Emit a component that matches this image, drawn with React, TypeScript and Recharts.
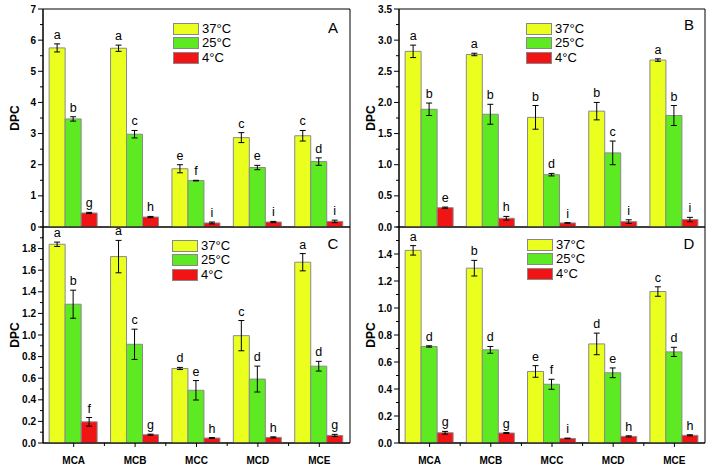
import React from 'react';
import { BarChart, Bar, XAxis, YAxis, ErrorBar, LabelList, Legend, ReferenceArea } from 'recharts';

const FONT = '"Liberation Sans", Arial, sans-serif';

const categories = ['MCA', 'MCB', 'MCC', 'MCD', 'MCE'];
const seriesNames = ['37°C', '25°C', '4°C'];
const seriesColors = ['#EAFF1E', '#5EEA22', '#F01414'];

// Panel A
const aV37 = [5.75, 5.74, 1.87, 2.87, 2.93];
const aE37 = [0.13, 0.1, 0.13, 0.16, 0.17];
const aV25 = [3.47, 2.98, 1.49, 1.91, 2.1];
const aE25 = [0.07, 0.12, 0.01, 0.07, 0.12];
const aV4 = [0.45, 0.32, 0.13, 0.16, 0.18];
const aE4 = [0.02, 0.02, 0.03, 0.02, 0.04];
const aL37 = ['a', 'a', 'e', 'c', 'c'];
const aL25 = ['b', 'c', 'f', 'e', 'd'];
const aL4 = ['g', 'h', 'i', 'i', 'i'];
const aTicks = [0, 0.5, 1, 1.5, 2, 2.5, 3, 3.5, 4, 4.5, 5, 5.5, 6, 6.5, 7];
const aMajor = [0, 1, 2, 3, 4, 5, 6, 7];

// Panel B
const bV37 = [2.82, 2.77, 1.76, 1.86, 2.68];
const bE37 = [0.1, 0.02, 0.19, 0.14, 0.02];
const bV25 = [1.89, 1.81, 0.84, 1.19, 1.79];
const bE25 = [0.1, 0.16, 0.02, 0.19, 0.16];
const bV4 = [0.31, 0.14, 0.065, 0.086, 0.12];
const bE4 = [0.01, 0.03, 0.004, 0.03, 0.035];
const bL37 = ['a', 'a', 'b', 'b', 'a'];
const bL25 = ['b', 'b', 'd', 'c', 'b'];
const bL4 = ['e', 'h', 'i', 'i', 'i'];
const bTicks = [0, 0.25, 0.5, 0.75, 1, 1.25, 1.5, 1.75, 2, 2.25, 2.5, 2.75, 3, 3.25, 3.5];
const bMajor = [0, 0.5, 1, 1.5, 2, 2.5, 3, 3.5];

// Panel C
const cV37 = [1.84, 1.726, 0.69, 0.994, 1.674];
const cE37 = [0.02, 0.15, 0.01, 0.14, 0.08];
const cV25 = [1.285, 0.914, 0.488, 0.592, 0.711];
const cE25 = [0.13, 0.14, 0.09, 0.12, 0.045];
const cV4 = [0.196, 0.077, 0.046, 0.052, 0.07];
const cE4 = [0.04, 0.005, 0.004, 0.005, 0.01];
const cL37 = ['a', 'a', 'd', 'c', 'a'];
const cL25 = ['b', 'c', 'e', 'd', 'd'];
const cL4 = ['f', 'g', 'h', 'h', 'g'];
const cTicks = [0, 0.1, 0.2, 0.3, 0.4, 0.5, 0.6, 0.7, 0.8, 0.9, 1, 1.1, 1.2, 1.3, 1.4, 1.5, 1.6, 1.7, 1.8, 1.9, 2];
const cMajor = [0, 0.2, 0.4, 0.6, 0.8, 1, 1.2, 1.4, 1.6, 1.8];

// Panel D
const dV37 = [1.427, 1.295, 0.53, 0.734, 1.122];
const dE37 = [0.035, 0.058, 0.043, 0.08, 0.035];
const dV25 = [0.715, 0.69, 0.435, 0.52, 0.675];
const dE25 = [0.005, 0.025, 0.037, 0.036, 0.034];
const dV4 = [0.076, 0.074, 0.034, 0.049, 0.057];
const dE4 = [0.01, 0.003, 0.002, 0.004, 0.004];
const dL37 = ['a', 'b', 'e', 'd', 'c'];
const dL25 = ['d', 'd', 'f', 'e', 'd'];
const dL4 = ['g', 'g', 'i', 'h', 'h'];
const dTicks = [0, 0.1, 0.2, 0.3, 0.4, 0.5, 0.6, 0.7, 0.8, 0.9, 1, 1.1, 1.2, 1.3, 1.4, 1.5, 1.6];
const dMajor = [0, 0.2, 0.4, 0.6, 0.8, 1, 1.2, 1.4];

type Series = { v: number[]; e: number[]; l: string[] };

function buildRows(s: Series[]) {
  return categories.map((name, i) => ({
    name,
    v0: s[0].v[i], e0: s[0].e[i],
    v1: s[1].v[i], e1: s[1].e[i],
    v2: s[2].v[i], e2: s[2].e[i],
  }));
}

const YTick = (props: any) => {
  const { x, y, payload, majors, decimals } = props;
  const v = payload.value;
  const isMajor = majors.some((m: number) => Math.abs(m - v) < 1e-6);
  return (
    <g>
      <line x1={x} x2={x - (isMajor ? 5 : 3)} y1={y} y2={y} stroke="#000" strokeWidth={1} />
      {isMajor && (
        <text x={x - 7} y={y} dy={3.6} textAnchor="end" fontSize={10} fontWeight="bold" fontFamily={FONT} fill="#000">
          {v.toFixed(decimals)}
        </text>
      )}
    </g>
  );
};

const XTick = (props: any) => {
  const { x, y, payload, index, band } = props;
  return (
    <g>
      <line x1={x} x2={x} y1={y} y2={y + 4} stroke="#000" />
      {index < categories.length - 1 && (
        <line x1={x + band / 2} x2={x + band / 2} y1={y} y2={y + 3} stroke="#000" />
      )}
      <text x={x} y={y + 20.5} textAnchor="middle" fontSize={10} fontWeight="bold" fontFamily={FONT} fill="#000">
        {payload.value}
      </text>
    </g>
  );
};

const makeLetter = (s: Series) => (props: any) => {
  const vb = props.viewBox || {};
  const x = props.x ?? vb.x;
  const y = props.y ?? vb.y;
  const width = props.width ?? vb.width;
  const height = props.height ?? vb.height;
  const index = props.index;
  if (index == null || x == null) return null;
  const v = s.v[index];
  const e = s.e[index];
  const pxPer = height / v;
  const top = y - e * pxPer;
  return (
    <text x={x + width / 2} y={top - 5} textAnchor="middle" fontSize={12.5} fontFamily={FONT} fill="#000">
      {s.l[index]}
    </text>
  );
};

const LegendBox = () => (
  <div style={{ fontFamily: FONT, fontSize: 13, lineHeight: '14px', color: '#000' }}>
    {seriesNames.map((n, i) => (
      <div key={n} style={{ display: 'flex', alignItems: 'center', height: 14.3 }}>
        <span
          style={{
            display: 'inline-block',
            width: 26,
            height: 12,
            boxSizing: 'border-box',
            background: seriesColors[i],
            border: '1px solid #888',
          }}
        />
        <span style={{ marginLeft: 3 }}>{n}</span>
      </div>
    ))}
  </div>
);

type PanelCfg = {
  left: number;
  top: number;
  width: number;
  height: number;
  margin: { top: number; right: number; bottom: number; left: number };
  xh: number;
  bottom: boolean;
  domain: [number, number];
  ticks: number[];
  majors: number[];
  decimals: number;
  series: Series[];
  legend: { x: number; y: number };
  letter: string;
  letterPos: { x: number; y: number };
};

const YW = 43;

const Panel = ({ cfg }: { cfg: PanelCfg }) => {
  const data = buildRows(cfg.series);
  const plotW = cfg.width - cfg.margin.left - cfg.margin.right - YW;
  const band = plotW / categories.length;
  return (
    <div style={{ position: 'absolute', left: cfg.left, top: cfg.top }}>
      <BarChart
        width={cfg.width}
        height={cfg.height}
        data={data}
        margin={cfg.margin}
        barCategoryGap="10%"
        barGap={0}
      >
        <XAxis
          dataKey="name"
          height={cfg.xh}
          axisLine={{ stroke: '#000' }}
          tickLine={false}
          tickSize={0}
          tickMargin={0}
          interval={0}
          tick={cfg.bottom ? <XTick band={band} /> : false}
        />
        <YAxis
          width={YW}
          domain={cfg.domain}
          ticks={cfg.ticks}
          interval={0}
          allowDataOverflow
          axisLine={{ stroke: '#000' }}
          tickLine={false}
          tickSize={0}
          tickMargin={0}
          tick={<YTick majors={cfg.majors} decimals={cfg.decimals} />}
          label={(p: any) => {
            const vb = p.viewBox || {};
            const cx = (vb.x ?? 0) + 15;
            const cy = (vb.y ?? 0) + (vb.height ?? 0) / 2;
            return (
              <text
                x={cx}
                y={cy}
                transform={`rotate(-90 ${cx} ${cy})`}
                textAnchor="middle"
                dominantBaseline="central"
                fontSize={12}
                fontWeight="bold"
                fontFamily={FONT}
                fill="#000"
              >
                DPC
              </text>
            );
          }}
        />
        <Legend
          layout="horizontal"
          verticalAlign="middle"
          align="center"
          content={<LegendBox />}
          wrapperStyle={{ position: 'absolute', left: cfg.legend.x - cfg.left, top: cfg.legend.y - cfg.top, width: 'auto', height: 'auto' }}
        />
        {[0, 1, 2].map((k) => (
          <Bar
            key={k}
            dataKey={`v${k}`}
            name={seriesNames[k]}
            fill={seriesColors[k]}
            stroke="#8a8a8a"
            strokeWidth={1}
            isAnimationActive={false}
          >
            <ErrorBar dataKey={`e${k}`} width={3} stroke="#000" strokeWidth={1} direction="y" isAnimationActive={false} />
            <LabelList dataKey={`v${k}`} content={makeLetter(cfg.series[k])} />
          </Bar>
        ))}
        <ReferenceArea
          x1={categories[0]}
          x2={categories[categories.length - 1]}
          y1={cfg.domain[0]}
          y2={cfg.domain[1]}
          fill="none"
          fillOpacity={0}
          stroke="#000"
          strokeWidth={1}
          ifOverflow="visible"
        />
      </BarChart>
    </div>
  );
};

const panels: PanelCfg[] = [
  {
    left: 0, top: 0, width: 356, height: 232,
    margin: { top: 9, right: 6, bottom: 5, left: 0 }, xh: 0, bottom: false,
    domain: [0, 7], ticks: aTicks, majors: aMajor, decimals: 0,
    series: [{ v: aV37, e: aE37, l: aL37 }, { v: aV25, e: aE25, l: aL25 }, { v: aV4, e: aE4, l: aL4 }],
    legend: { x: 173, y: 22 }, letter: 'A', letterPos: { x: 333, y: 33 },
  },
  {
    left: 356, top: 0, width: 353, height: 232,
    margin: { top: 9, right: 4, bottom: 5, left: 0 }, xh: 0, bottom: false,
    domain: [0, 3.5], ticks: bTicks, majors: bMajor, decimals: 1,
    series: [{ v: bV37, e: bE37, l: bL37 }, { v: bV25, e: bE25, l: bL25 }, { v: bV4, e: bE4, l: bL4 }],
    legend: { x: 526, y: 22 }, letter: 'B', letterPos: { x: 689, y: 30 },
  },
  {
    left: 0, top: 218, width: 356, height: 254,
    margin: { top: 9, right: 6, bottom: 4, left: 0 }, xh: 25, bottom: true,
    domain: [0, 2], ticks: cTicks, majors: cMajor, decimals: 1,
    series: [{ v: cV37, e: cE37, l: cL37 }, { v: cV25, e: cE25, l: cL25 }, { v: cV4, e: cE4, l: cL4 }],
    legend: { x: 172, y: 239 }, letter: 'C', letterPos: { x: 333, y: 249 },
  },
  {
    left: 356, top: 218, width: 353, height: 254,
    margin: { top: 9, right: 4, bottom: 4, left: 0 }, xh: 25, bottom: true,
    domain: [0, 1.6], ticks: dTicks, majors: dMajor, decimals: 1,
    series: [{ v: dV37, e: dE37, l: dL37 }, { v: dV25, e: dE25, l: dL25 }, { v: dV4, e: dE4, l: dL4 }],
    legend: { x: 527, y: 238 }, letter: 'D', letterPos: { x: 689, y: 249 },
  },
];

export default function App() {
  return (
    <div style={{ position: 'absolute', left: 0, top: 0, width: 709, height: 472, background: '#fff', overflow: 'hidden' }}>
      {panels.map((p) => (
        <Panel key={p.letter} cfg={p} />
      ))}
      <svg width={709} height={472} style={{ position: 'absolute', left: 0, top: 0, pointerEvents: 'none' }}>
        {panels.map((p) => (
          <text key={p.letter} x={p.letterPos.x} y={p.letterPos.y} textAnchor="middle" fontSize={15} fontFamily={FONT} fill="#000">
            {p.letter}
          </text>
        ))}
      </svg>
    </div>
  );
}
